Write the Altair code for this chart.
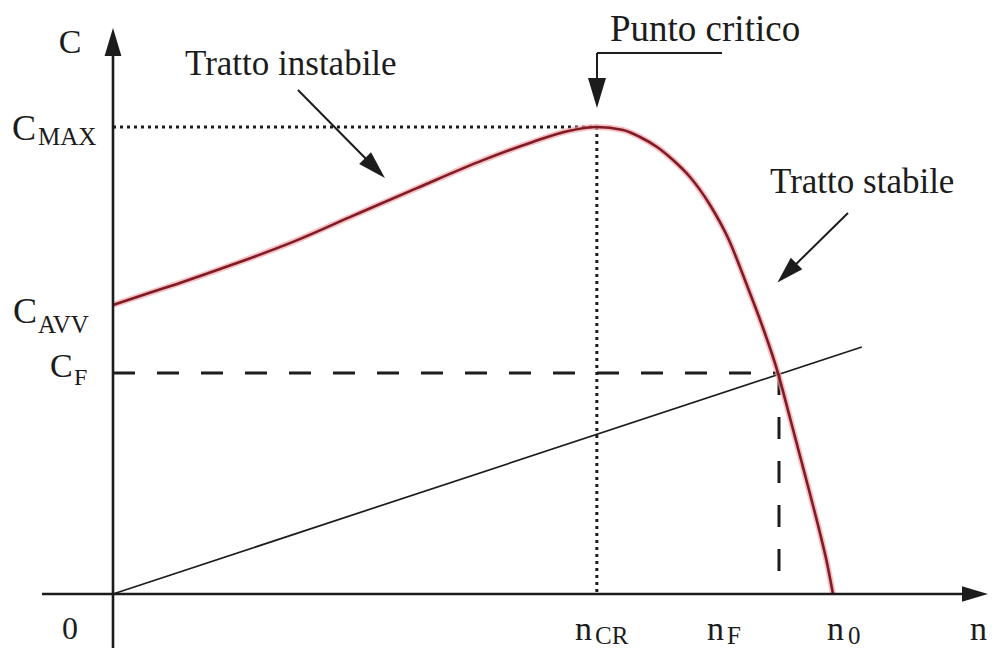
import altair as alt
import pandas as pd

# ---------------- data (units: n0 = 100, C_MAX = 100) ----------------
curve_n = [0, 5.1, 8.9, 16.9, 25.0, 32.9, 42.2, 51.4, 58.3, 63.1, 67.2,
           70.83, 73.19, 75.56, 77.78, 80.14, 82.92, 85.42, 88.19, 90.28, 92.36,
           94.03, 95.42, 96.81, 98.19, 99.17, 100]
curve_c = [61.9, 64.5, 66.4, 70.7, 75.4, 80.7, 86.9, 92.9, 96.8, 99.1, 100,
           99.36, 97.86, 95.72, 92.93, 89.29, 83.30, 76.23, 65.52, 56.96, 47.32,
           37.69, 29.55, 21.41, 13.06, 6.64, 0]

load_n = [0, 104.0]
load_c = [0, 52.9]

N_CR, N_F, N_0 = 67.2, 92.5, 100.0
C_MAX, C_AVV, C_F = 100.0, 61.9, 47.3

X_DOM = [-14.583, 121.528]
Y_DOM = [-11.563, 125.482]

# labels: text, x, y, size, align
label_text = ["C", "C", "MAX", "C", "AVV", "C", "F", "0",
              "n", "CR", "n", "F", "n", "0", "n"]
label_x = [-5.97, -14.03, -10.42, -13.89, -10.42, -8.75, -5.42, -5.97,
           64.17, 66.94, 82.5, 85.28, 99.17, 102.08, 119.03]
label_y = [115.85, 97.2, 96.1, 58.0, 55.9, 46.5, 44.75, -9.6,
           -9.85, -10.71, -9.85, -10.71, -9.85, -10.71, -9.85]
label_size = [34, 36, 25, 36, 25, 34, 24, 32, 34, 25, 34, 25, 34, 25, 34]
label_align = ["center", "left", "left", "left", "left", "left", "left", "center",
               "left", "left", "left", "left", "left", "left", "left"]

note_text = ["Tratto instabile", "Punto critico", "Tratto stabile"]
note_x = [10.0, 69.03, 91.25]
note_y = [111.1, 118.4, 85.87]
note_size = [35, 37, 35]

# arrow shafts
shaft_x = [25.69, 84.58, 67.22, 102.08]
shaft_y = [107.92, 115.85, 115.85, 81.58]
shaft_x2 = [36.39, 67.22, 67.22, 93.61]
shaft_y2 = [91.22, 115.85, 107.28, 68.74]

# arrow heads
head_x = [0, 119.72, 67.22, 36.39, 93.61]
head_y = [118.2, 0, 107.28, 91.22, 68.74]
head_size = [784, 676, 900, 784, 729]
head_angle = [0, 90, 180, 135, 225]

# ---------------- chart ----------------
xs = alt.Scale(domain=X_DOM, nice=False, zero=False)
ys = alt.Scale(domain=Y_DOM, nice=False, zero=False)

def X(f):
    return alt.X(f, type="quantitative", scale=xs, axis=None)

def Y(f):
    return alt.Y(f, type="quantitative", scale=ys, axis=None)

INK = "#1c1c1c"

curve_df = pd.DataFrame({"n": curve_n, "c": curve_c})
halo = alt.Chart(curve_df).mark_line(color="#f2a3a8", strokeWidth=6, opacity=0.7,
                                     interpolate="monotone").encode(x=X("n"), y=Y("c"))
curve = alt.Chart(curve_df).mark_line(color="#7e1b24", strokeWidth=2.6,
                                      interpolate="monotone").encode(x=X("n"), y=Y("c"))

load = alt.Chart(pd.DataFrame({"n": load_n, "c": load_c})).mark_line(
    color=INK, strokeWidth=1.7).encode(x=X("n"), y=Y("c"))

axes_df = pd.DataFrame({
    "x": [0, -9.86], "y": [Y_DOM[0], 0], "x2": [0, 119.72], "y2": [118.2, 0]})
axes = alt.Chart(axes_df).mark_rule(color=INK, strokeWidth=2.6).encode(
    x=X("x"), y=Y("y"), x2="x2", y2="y2")

dotted_df = pd.DataFrame({
    "x": [0, N_CR], "y": [C_MAX, C_MAX], "x2": [N_CR, N_CR], "y2": [C_MAX, 0]})
dotted = alt.Chart(dotted_df).mark_rule(color=INK, strokeWidth=3, strokeDash=[3, 4]).encode(
    x=X("x"), y=Y("y"), x2="x2", y2="y2")

dashed_df = pd.DataFrame({
    "x": [0, N_F], "y": [C_F, C_F], "x2": [N_F, N_F], "y2": [C_F, 0]})
dashed = alt.Chart(dashed_df).mark_rule(color=INK, strokeWidth=3, strokeDash=[22, 22]).encode(
    x=X("x"), y=Y("y"), x2="x2", y2="y2")

shafts = alt.Chart(pd.DataFrame({"x": shaft_x, "y": shaft_y, "x2": shaft_x2, "y2": shaft_y2})).mark_rule(
    color=INK, strokeWidth=2).encode(x=X("x"), y=Y("y"), x2="x2", y2="y2")

heads = alt.Chart(pd.DataFrame({"x": head_x, "y": head_y, "s": head_size, "a": head_angle})).mark_point(
    shape="M0,-1L0.6,1L-0.6,1Z", filled=True, color=INK, opacity=1, strokeWidth=0).encode(
    x=X("x"), y=Y("y"),
    size=alt.Size("s:Q", scale=None, legend=None),
    angle=alt.Angle("a:Q", scale=None))

lab_df = pd.DataFrame({"t": label_text, "x": label_x, "y": label_y,
                       "s": label_size, "al": label_align})
labels_left = alt.Chart(lab_df[lab_df.al == "left"]).mark_text(
    font="Liberation Serif", color=INK, align="left", baseline="alphabetic").encode(
    x=X("x"), y=Y("y"), text="t:N", size=alt.Size("s:Q", scale=None, legend=None))
labels_center = alt.Chart(lab_df[lab_df.al == "center"]).mark_text(
    font="Liberation Serif", color=INK, align="center", baseline="alphabetic").encode(
    x=X("x"), y=Y("y"), text="t:N", size=alt.Size("s:Q", scale=None, legend=None))

notes = alt.Chart(pd.DataFrame({"t": note_text, "x": note_x, "y": note_y, "s": note_size})).mark_text(
    font="Liberation Serif", color=INK, align="left", baseline="alphabetic").encode(
    x=X("x"), y=Y("y"), text="t:N", size=alt.Size("s:Q", scale=None, legend=None))

chart = alt.layer(
    dotted, dashed, load, halo, curve, axes, shafts, heads, labels_left, labels_center, notes
).properties(
    width=980, height=640,
    autosize=alt.AutoSizeParams(type="none"),
    padding=0,
    background="white",
).configure_view(stroke=None)

chart.save("out.html", embed_options={"renderer": "svg", "actions": False})
